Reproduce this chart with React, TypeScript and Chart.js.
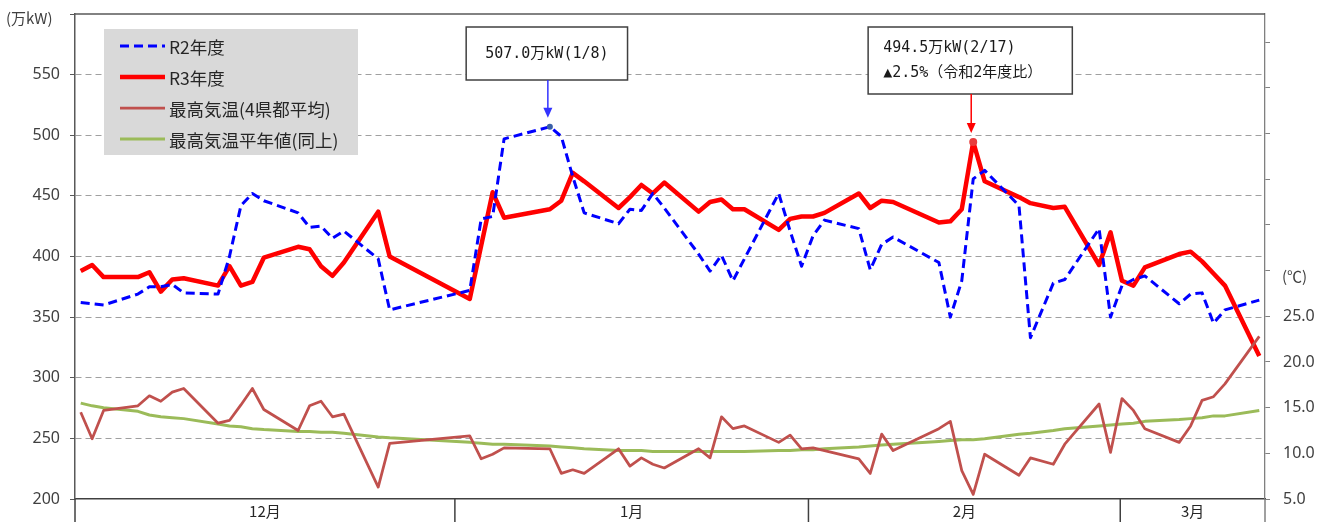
import React, { useEffect, useRef } from 'react';
import { Chart, registerables } from 'chart.js';

Chart.register(...registerables);

// ---- categories: every calendar day on the axis ----
const dayLabels = [
  '12/1','12/2','12/3','12/4','12/5','12/6','12/7','12/8','12/9','12/10','12/11','12/12','12/13','12/14','12/15','12/16',
  '12/17','12/18','12/19','12/20','12/21','12/22','12/23','12/24','12/25','12/26','12/27','12/28','12/29','12/30','12/31',
  '1/1','1/2','1/3','1/4','1/5','1/6','1/7','1/8','1/9','1/10','1/11','1/12','1/13','1/14','1/15','1/16',
  '1/17','1/18','1/19','1/20','1/21','1/22','1/23','1/24','1/25','1/26','1/27','1/28','1/29','1/30','1/31',
  '2/1','2/2','2/3','2/4','2/5','2/6','2/7','2/8','2/9','2/10','2/11','2/12','2/13','2/14',
  '2/15','2/16','2/17','2/18','2/19','2/20','2/21','2/22','2/23','2/24','2/25','2/26','2/27','2/28',
  '3/1','3/2','3/3','3/4','3/5','3/6','3/7','3/8','3/9','3/10','3/11','3/12','3/13','3/14',
];

// ---- days that carry data (weekdays) ----
const dataDates = [
  '12/1','12/2','12/3','12/6','12/7','12/8','12/9','12/10','12/13','12/14','12/15','12/16','12/17','12/20','12/21','12/22','12/23','12/24','12/27','12/28',
  '1/4','1/5','1/6','1/7','1/11','1/12','1/13','1/14','1/17','1/18','1/19','1/20','1/21','1/24','1/25','1/26','1/27','1/28','1/31',
  '2/1','2/2','2/3','2/4','2/7','2/8','2/9','2/10','2/14','2/15','2/16','2/17','2/18','2/21','2/22','2/24','2/25','2/28',
  '3/1','3/2','3/3','3/4','3/7','3/8','3/9','3/10','3/11','3/14',
];

// R2年度 (万kW)
const r2Values = [
  362,361,360,369,375,375,377,370,369,400,442,452,446,436,424,425,415,421,398,356,
  372,431,433,497,507.0,499,466,436,427,439,438,452,440,402,388,401,380,398,452,
  421,392,417,430,423,389,410,416,395,350,380,464,471,442,333,378,381,423,
  350,376,381,384,361,369,370,345,356,364,
];

// R3年度 (万kW)
const r3Values = [
  388,393,383,383,387,371,381,382,376,392,376,379,399,408,406,392,384,395,437,400,
  365,409,453,432,439,446,469,462,440,449,459,452,461,437,445,447,439,439,422,
  431,433,433,436,452,440,446,445,428,429,439,494.5,462,449,444,440,441,393,
  420,380,376,391,402,404,396,386,376,318,
];

// 最高気温(4県都平均) (℃)
const tempValues = [
  14.5,11.6,14.7,15.2,16.3,15.7,16.7,17.1,13.3,13.6,15.3,17.1,14.8,12.5,15.2,15.7,14.0,14.3,6.3,11.1,
  11.9,9.4,9.9,10.6,10.5,7.8,8.2,7.8,10.5,8.6,9.5,8.8,8.4,10.5,9.5,14.0,12.7,13.0,11.2,
  12.0,10.5,10.6,10.3,9.4,7.8,12.1,10.3,12.7,13.5,8.1,5.5,9.9,7.6,9.5,8.8,11.0,15.4,
  10.1,16.0,14.7,12.7,11.2,13.0,15.8,16.2,17.6,22.8,
];

// 最高気温平年値(同上) (℃)
const normalValues = [
  15.5,15.2,15.0,14.6,14.2,14.0,13.9,13.8,13.2,13.0,12.9,12.7,12.6,12.4,12.4,12.3,12.3,12.2,11.8,11.7,
  11.2,11.1,11.0,11.0,10.8,10.7,10.6,10.5,10.3,10.3,10.3,10.2,10.2,10.2,10.2,10.2,10.2,10.2,10.3,
  10.3,10.4,10.4,10.5,10.7,10.8,10.9,11.0,11.3,11.4,11.5,11.5,11.6,12.1,12.2,12.5,12.7,13.0,
  13.1,13.2,13.3,13.5,13.7,13.8,13.9,14.1,14.1,14.7,
];

const seriesLabels = ['R2年度', 'R3年度', '最高気温(4県都平均)', '最高気温平年値(同上)'];

// left axis ticks (万kW) and right axis ticks (℃)
const leftTicks = [200, 250, 300, 350, 400, 450, 500, 550, 600];
const rightTicks = [5, 10, 15, 20, 25, 30, 35, 40, 45, 50, 55];
const rightLabelMax = 25;

// month band underneath: labels and their edges (in days from the axis start)
const monthLabels = ['12月', '1月', '2月', '3月'];
const monthEdges = [0, 33.2, 64.1, 91.35, 104];

// callouts
const calloutDates = ['1/11', '2/17'];
const calloutSeries = [0, 1];
const calloutTexts = [['507.0万kW(1/8)'], ['494.5万kW(2/17)', '▲2.5%（令和2年度比）']];

const JP = '"Noto Sans CJK JP", "Noto Sans", sans-serif';
const NUM = '"Noto Sans", "Noto Sans CJK JP", sans-serif';
const MONO = '"DejaVu Sans Mono", "Noto Sans CJK JP", monospace';

const toPoints = (vals: number[]) => dataDates.map((d, i) => ({ x: d, y: vals[i] }));

const peakRadius = (date: string, r: number) => (c: any) =>
  c.raw && c.raw.x === date ? r : 0;

const noVerticalPadding = (s: any, width: number) => {
  s.width = width;
  s.paddingTop = 0;
  s.paddingBottom = 0;
};

const frameAndBandPlugin = {
  id: 'frameAndBand',
  afterDraw(chart: any) {
    const { ctx, chartArea, scales } = chart;
    const xs = scales.x;
    const yR = scales.yR;
    ctx.save();
    // top border
    ctx.strokeStyle = '#595959';
    ctx.lineWidth = 1.3;
    ctx.beginPath();
    ctx.moveTo(chartArea.left, chartArea.top);
    ctx.lineTo(chartArea.right, chartArea.top);
    ctx.stroke();
    // month band
    const bottom = chart.height;
    ctx.lineWidth = 1.5;
    monthEdges.forEach((e, i) => {
      const px = xs.getPixelForValue(e - 0.5);
      ctx.strokeStyle = i === monthEdges.length - 1 ? '#808080' : '#404040';
      ctx.beginPath();
      ctx.moveTo(px, chartArea.bottom);
      ctx.lineTo(px, bottom);
      ctx.stroke();
    });
    ctx.fillStyle = '#262626';
    ctx.font = `15px ${JP}`;
    ctx.textAlign = 'center';
    ctx.textBaseline = 'middle';
    monthLabels.forEach((m, i) => {
      const a = xs.getPixelForValue(monthEdges[i] - 0.5);
      const b = xs.getPixelForValue(monthEdges[i + 1] - 0.5);
      ctx.fillText(m, (a + b) / 2, chartArea.bottom + 12);
    });
    // axis unit captions
    ctx.font = `15px ${JP}`;
    ctx.fillStyle = '#404040';
    ctx.textAlign = 'left';
    ctx.fillText('(万kW)', 6, chartArea.top + 4);
    ctx.fillText('(℃)', chartArea.right + 17, yR.getPixelForValue(29.4));
    ctx.restore();
  },
};

const legendCalloutPlugin = {
  id: 'legendCallout',
  afterDatasetsDraw(chart: any) {
    const { ctx, chartArea } = chart;
    ctx.save();
    // legend box
    const lx = chartArea.left + 29;
    const ly = chartArea.top + 15;
    ctx.fillStyle = '#d9d9d9';
    ctx.fillRect(lx, ly, 254, 126);
    chart.data.datasets.forEach((ds: any, i: number) => {
      const y = ly + 17 + i * 31;
      ctx.strokeStyle = ds.borderColor;
      ctx.lineWidth = ds.borderWidth;
      ctx.setLineDash(ds.borderDash || []);
      ctx.beginPath();
      ctx.moveTo(lx + 16, y);
      ctx.lineTo(lx + 61, y);
      ctx.stroke();
      ctx.setLineDash([]);
      ctx.fillStyle = '#262626';
      ctx.font = `17.5px ${JP}`;
      ctx.textAlign = 'left';
      ctx.textBaseline = 'middle';
      ctx.fillText(ds.label, lx + 65, y + 1);
    });

    // callouts
    calloutDates.forEach((date, k) => {
      const si = calloutSeries[k];
      const meta = chart.getDatasetMeta(si);
      const pt = meta.data[dataDates.indexOf(date)];
      if (!pt) return;
      const px = pt.x;
      const py = pt.y;
      const lines = calloutTexts[k];
      ctx.font = `15px ${MONO}`;
      const tw = Math.max(...lines.map((t) => ctx.measureText(t).width));
      const multi = lines.length > 1;
      const padL = multi ? 15 : 19;
      const padR = multi ? 30 : 19;
      const bw = tw + padL + padR;
      const bh = multi ? 67 : 53;
      const bx = px - 3 - bw / 2;
      const by = chartArea.top + 13;
      ctx.fillStyle = '#ffffff';
      ctx.fillRect(bx, by, bw, bh);
      ctx.strokeStyle = '#404040';
      ctx.lineWidth = 1.5;
      ctx.strokeRect(bx, by, bw, bh);
      ctx.fillStyle = '#1a1a1a';
      ctx.textBaseline = 'middle';
      if (!multi) {
        ctx.textAlign = 'center';
        ctx.fillText(lines[0], bx + bw / 2, by + bh / 2 + 1);
      } else {
        ctx.textAlign = 'left';
        lines.forEach((t, j) => ctx.fillText(t, bx + padL, by + 21 + j * 25));
      }
      // arrow
      const col = si === 0 ? '#3333ff' : '#ff0000';
      const ax = px - 2;
      const tipY = py - 9;
      ctx.strokeStyle = col;
      ctx.fillStyle = col;
      ctx.lineWidth = 1.5;
      ctx.beginPath();
      ctx.moveTo(ax, by + bh);
      ctx.lineTo(ax, tipY - 8);
      ctx.stroke();
      ctx.beginPath();
      ctx.moveTo(ax, tipY);
      ctx.lineTo(ax - 4.5, tipY - 10);
      ctx.lineTo(ax + 4.5, tipY - 10);
      ctx.closePath();
      ctx.fill();
    });
    ctx.restore();
  },
};

export default function App() {
  const ref = useRef<HTMLCanvasElement>(null);

  useEffect(() => {
    if (!ref.current) return;
    const chart = new Chart(ref.current, {
      type: 'line',
      data: {
        labels: dayLabels,
        datasets: [
          {
            label: seriesLabels[0],
            data: toPoints(r2Values) as any,
            borderColor: '#0000ff',
            borderWidth: 3,
            borderDash: [9, 5],
            yAxisID: 'y',
            order: 0,
            pointRadius: peakRadius(calloutDates[0], 3) as any,
            pointBackgroundColor: '#3a5fa8',
            pointBorderWidth: 0,
          },
          {
            label: seriesLabels[1],
            data: toPoints(r3Values) as any,
            borderColor: '#ff0000',
            borderWidth: 4.5,
            yAxisID: 'y',
            order: 3,
            pointRadius: peakRadius(calloutDates[1], 4) as any,
            pointBackgroundColor: '#e83c3c',
            pointBorderWidth: 0,
          },
          {
            label: seriesLabels[2],
            data: toPoints(tempValues) as any,
            borderColor: '#c0504d',
            borderWidth: 2.75,
            yAxisID: 'yR',
            order: 1,
            pointRadius: 0,
          },
          {
            label: seriesLabels[3],
            data: toPoints(normalValues) as any,
            borderColor: '#9bbb59',
            borderWidth: 3,
            yAxisID: 'yR',
            order: 2,
            pointRadius: 0,
          },
        ],
      },
      options: {
        animation: false,
        responsive: true,
        maintainAspectRatio: false,
        events: [],
        layout: { padding: { top: 14, left: 0, right: 0, bottom: 0 } },
        elements: { line: { tension: 0, borderJoinStyle: 'round', borderCapStyle: 'butt' }, point: { hoverRadius: 0 } },
        plugins: { legend: { display: false }, tooltip: { enabled: false } },
        scales: {
          x: {
            type: 'category',
            offset: true,
            grid: { display: false },
            ticks: { display: false },
            border: { display: true, color: '#404040', width: 1.5 },
            afterFit: (s: any) => { s.height = 23; },
          },
          y: {
            position: 'left',
            min: leftTicks[0],
            max: leftTicks[leftTicks.length - 1],
            afterBuildTicks: (s: any) => { s.ticks = leftTicks.map((v) => ({ value: v })); },
            afterFit: (s: any) => noVerticalPadding(s, 75),
            ticks: {
              padding: 10,
              color: '#404040',
              font: { family: NUM, size: 16 },
              callback: (v: any) => (v === leftTicks[leftTicks.length - 1] ? '' : String(v)),
            },
            grid: {
              color: (c: any) =>
                c.tick && (c.tick.value === leftTicks[0] || c.tick.value === leftTicks[leftTicks.length - 1])
                  ? 'rgba(0,0,0,0)'
                  : '#a0a0a0',
              lineWidth: 1,
              drawTicks: true,
              tickLength: 5,
              tickColor: '#595959',
              tickBorderDash: [],
            } as any,
            border: { display: true, color: '#595959', width: 1.5, dash: [6, 4] },
          },
          yR: {
            position: 'right',
            min: 5,
            max: 58.1,
            afterBuildTicks: (s: any) => { s.ticks = rightTicks.map((v) => ({ value: v })); },
            afterFit: (s: any) => noVerticalPadding(s, 65),
            ticks: {
              padding: 13,
              color: '#404040',
              font: { family: NUM, size: 16 },
              callback: (v: any) => (v <= rightLabelMax ? Number(v).toFixed(1) : ''),
            },
            grid: { drawOnChartArea: false, drawTicks: true, tickLength: 5, tickColor: '#808080' },
            border: { display: true, color: '#808080', width: 1.3 },
          },
        },
      },
      plugins: [frameAndBandPlugin, legendCalloutPlugin],
    } as any);
    return () => chart.destroy();
  }, []);

  return (
    <div style={{ position: 'fixed', left: 0, top: 0, width: '100vw', height: '100vh', background: '#ffffff' }}>
      <canvas ref={ref} />
    </div>
  );
}
